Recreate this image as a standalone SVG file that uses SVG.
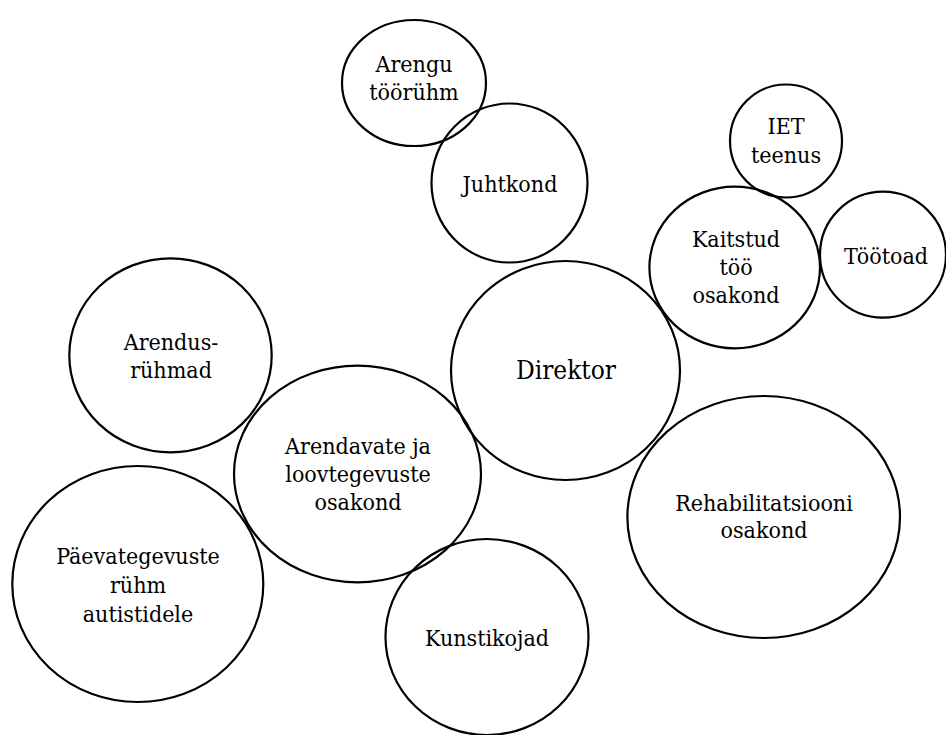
<svg xmlns="http://www.w3.org/2000/svg" width="946" height="735" viewBox="0 0 946 735">
<style>
.n{fill:none;stroke:#000;stroke-width:2.2}
text{font-family:'DejaVu Serif Condensed','DejaVu Serif',serif;font-stretch:condensed;font-size:23px;fill:#000;text-anchor:middle}
.big{font-size:26px}
</style>
<rect x="0" y="0" width="946" height="735" fill="#fff"/>
<g id="arengu"><ellipse class="n" cx="414" cy="83" rx="72" ry="63"/><text x="414" y="72">Arengu</text><text x="414" y="100">töörühm</text></g>
<g id="juhtkond"><ellipse class="n" cx="509.5" cy="183" rx="78" ry="79.5"/><text x="510" y="192">Juhtkond</text></g>
<g id="iet"><ellipse class="n" cx="786" cy="141" rx="56" ry="56.5"/><text x="786" y="134">IET</text><text x="786" y="163">teenus</text></g>
<g id="kaitstud"><ellipse class="n" cx="734.7" cy="267.5" rx="85.3" ry="80.8"/><text x="736" y="247">Kaitstud</text><text x="736" y="275">töö</text><text x="736" y="303">osakond</text></g>
<g id="tootoad"><ellipse class="n" cx="883" cy="254.7" rx="63" ry="63"/><text x="886" y="264">Töötoad</text></g>
<g id="direktor"><ellipse class="n" cx="565.5" cy="370.5" rx="114.5" ry="109.5"/><text class="big" x="566" y="379">Direktor</text></g>
<g id="arendus"><ellipse class="n" cx="170.5" cy="355.3" rx="101.2" ry="97"/><text x="171" y="350">Arendus-</text><text x="171" y="378">rühmad</text></g>
<g id="arendavate"><ellipse class="n" cx="357.5" cy="474" rx="123.5" ry="108.3"/><text x="358" y="454">Arendavate ja</text><text x="358" y="482">loovtegevuste</text><text x="358" y="510">osakond</text></g>
<g id="rehab"><ellipse class="n" cx="763.7" cy="517" rx="136.3" ry="121"/><text x="764" y="511">Rehabilitatsiooni</text><text x="764" y="538">osakond</text></g>
<g id="paev"><ellipse class="n" cx="137.8" cy="584" rx="125.5" ry="118"/><text x="138" y="564">Päevategevuste</text><text x="138" y="593">rühm</text><text x="138" y="622">autistidele</text></g>
<g id="kunstikojad"><ellipse class="n" cx="487" cy="637" rx="101.5" ry="98"/><text x="487" y="646">Kunstikojad</text></g>
</svg>
